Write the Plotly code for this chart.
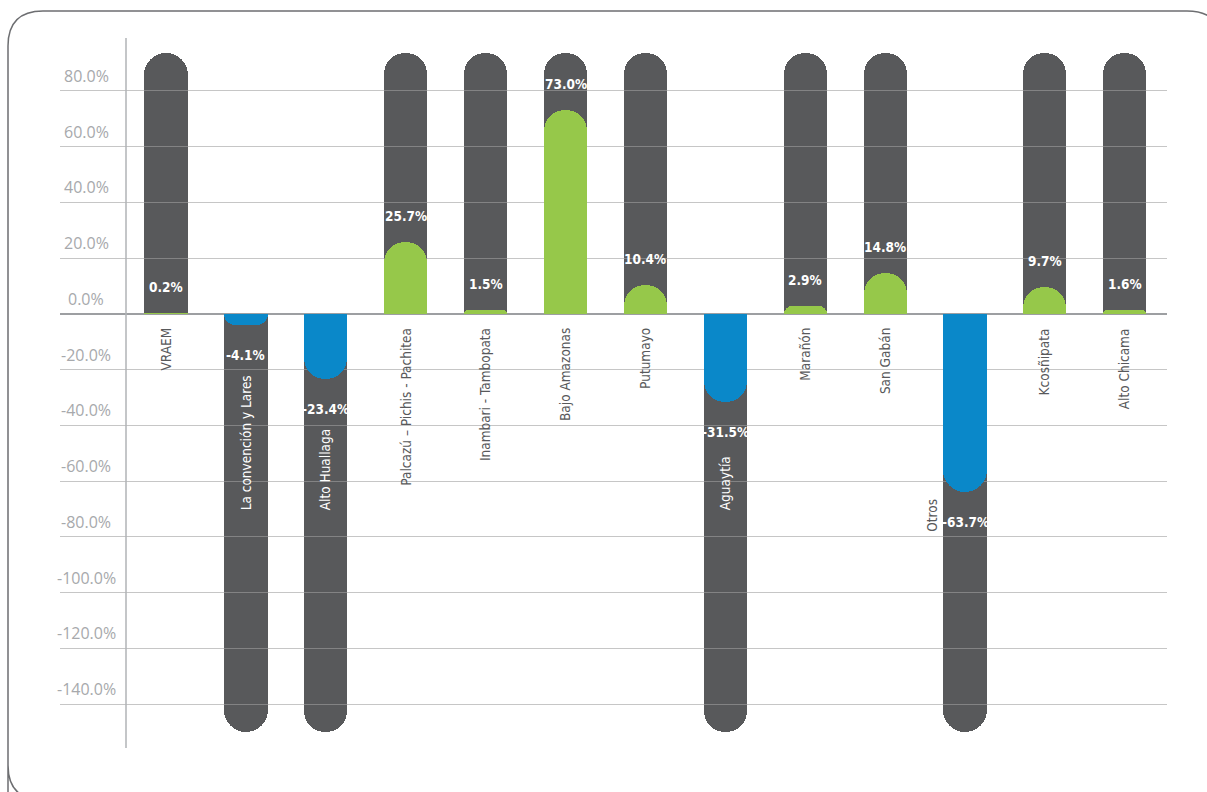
import plotly.graph_objects as go

# Variation by coca-growing zone (%)
categories = [
    "VRAEM", "La convención y Lares", "Alto Huallaga", "Palcazú – Pichis - Pachitea",
    "Inambari - Tambopata", "Bajo Amazonas", "Putumayo", "Aguaytía", "Marañón",
    "San Gabán", "Otros", "Kcosñipata", "Alto Chicama",
]
variation = [0.2, -4.1, -23.4, 25.7, 1.5, 73.0, 10.4, -31.5, 2.9, 14.8, -63.7, 9.7, 1.6]

# Extent of the dark background "tracks" behind each bar
track_top = 93.6
track_bottom = -150.0

y_ticks = [80, 60, 40, 20, 0, -20, -40, -60, -80, -100, -120, -140]

GRAY = "#58595b"
GREEN = "#96c84a"
BLUE = "#0a88c9"
LABEL_FONT = "Liberation Sans Narrow, DejaVu Sans Condensed, Roboto, sans-serif"

W, H = 1207, 792
ML, MR, MT, MB = 60, 40, 38, 44
PW, PH = W - ML - MR, H - MT - MB


def px(x):
    return (x - ML) / PW


def py(y):
    return (H - MB - y) / PH


x_range = [-1.327, 12.528]
y_range = [-155.7, 99.0]

tracks = [track_top if v >= 0 else track_bottom for v in variation]
colors = [GREEN if v >= 0 else BLUE for v in variation]

fig = go.Figure()
fig.add_trace(go.Bar(
    x=categories, y=tracks, width=0.54, marker=dict(color=GRAY, cornerradius="50%", line_width=0),
    xaxis="x", yaxis="y", hoverinfo="skip", showlegend=False,
))
fig.add_trace(go.Bar(
    x=categories, y=variation, width=0.54, marker=dict(color=colors, cornerradius="50%", line_width=0),
    xaxis="x2", yaxis="y2", showlegend=False,
))

annotations = []
# value labels
for c, v in zip(categories, variation):
    annotations.append(dict(
        x=c, y=v, xref="x2", yref="y2", text=f"{v:.1f}%", showarrow=False,
        yanchor="bottom" if v >= 0 else "top", yshift=16 if v >= 0 else -20,
        font=dict(family=LABEL_FONT, size=13.5, color="white", weight="bold"),
    ))
# category labels
for c, v in zip(categories, variation):
    if v >= 0:
        annotations.append(dict(
            x=c, y=0, xref="x2", yref="y2", text=c, showarrow=False, textangle=-90,
            yanchor="top", yshift=-12,
            font=dict(family=LABEL_FONT, size=13.5, color=GRAY),
        ))
    elif v > -50:
        annotations.append(dict(
            x=c, y=-71, xref="x2", yref="y2", text=c, showarrow=False, textangle=-90,
            yanchor="bottom",
            font=dict(family=LABEL_FONT, size=13.5, color="white"),
        ))
    else:
        annotations.append(dict(
            x=c, y=-79, xref="x2", yref="y2", text=c, showarrow=False, textangle=-90,
            yanchor="bottom", xshift=-33,
            font=dict(family=LABEL_FONT, size=13.5, color=GRAY),
        ))
# y tick labels
for t in y_ticks:
    annotations.append(dict(
        x=px(86), y=t, xref="paper", yref="y2", text=f"{t:.1f}%", showarrow=False,
        xanchor="center", yanchor="bottom", yshift=2,
        font=dict(family="Open Sans, sans-serif", size=16, color="#a7a9ac"),
    ))

border = (
    f"M {px(8)},{py(800)} L {px(8)},{py(46)} Q {px(8)},{py(11)} {px(43)},{py(11)} "
    f"L {px(1187)},{py(11)} Q {px(1222)},{py(11)} {px(1222)},{py(46)} "
    f"L {px(1222)},{py(765)} Q {px(1222)},{py(800)} {px(1187)},{py(800)} "
    f"L {px(43)},{py(800)} Q {px(8)},{py(800)} {px(8)},{py(765)} Z"
)

shapes = [
    dict(type="path", xref="paper", yref="paper", path=border,
         line=dict(color="#6d6e71", width=1.5), layer="above"),
    dict(type="line", xref="paper", yref="paper", x0=px(126), x1=px(126), y0=0, y1=1,
         line=dict(color="#b1b3b6", width=1.5), layer="above"),
]

hidden = dict(showgrid=False, zeroline=False, showticklabels=False, showline=False, ticks="")

fig.update_layout(
    width=W, height=H,
    margin=dict(l=ML, r=MR, t=MT, b=MB),
    paper_bgcolor="white", plot_bgcolor="rgba(0,0,0,0)",
    barmode="overlay", bargap=0,
    xaxis=dict(domain=[0, 1], anchor="y", type="category", range=x_range, **hidden),
    yaxis=dict(domain=[0, 1], anchor="x", range=y_range, **hidden),
    xaxis2=dict(domain=[0, 1], anchor="y2", type="category", range=x_range, **hidden),
    yaxis2=dict(domain=[0, 1], anchor="x2", range=y_range, tickvals=y_ticks,
                showgrid=True, gridcolor="rgba(160,160,160,0.6)", gridwidth=1.3,
                zeroline=True, zerolinecolor="#9d9fa2", zerolinewidth=1.5,
                showticklabels=False, showline=False, ticks=""),
    annotations=annotations,
    shapes=shapes,
)

fig.write_html("out.html")
